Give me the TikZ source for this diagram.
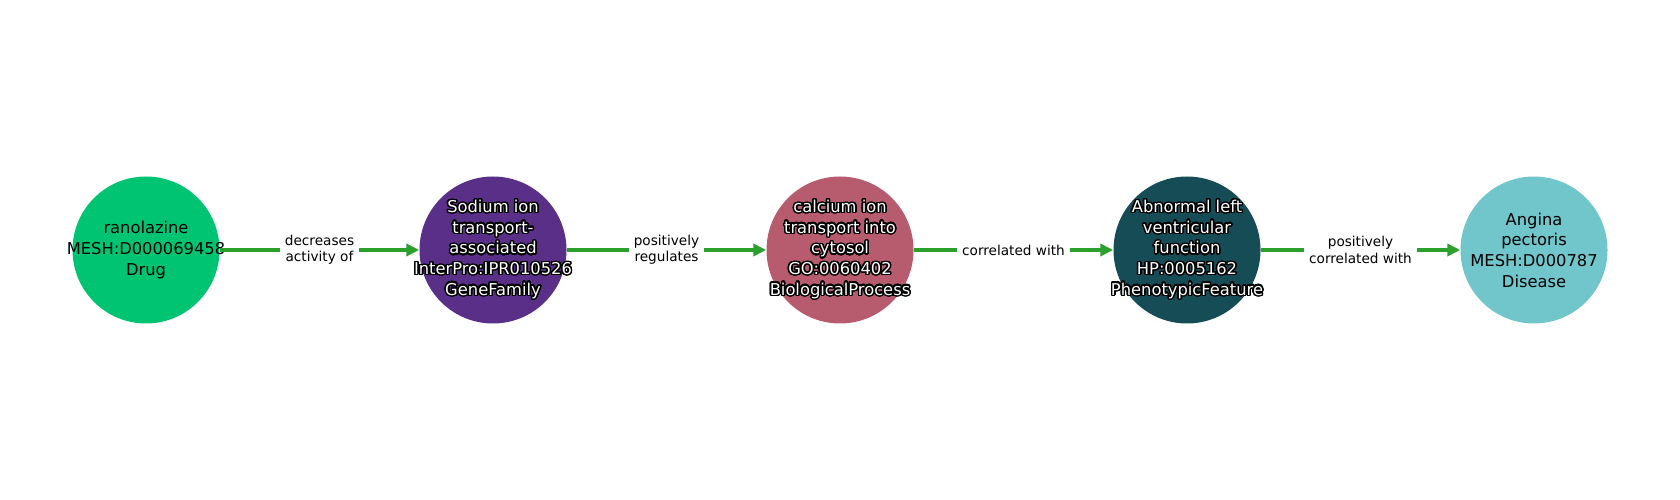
\documentclass[tikz,border=0pt]{standalone}
\usepackage{fontspec}
\setmainfont{DejaVu Sans}
\usepackage[copies]{contour}
\usetikzlibrary{arrows.meta}
\contourlength{1pt}
\contournumber{32}
\newcommand{\wl}[1]{\contour{black}{#1}}
\definecolor{drugcol}{HTML}{00C472}
\definecolor{genecol}{HTML}{5A2F87}
\definecolor{proccol}{HTML}{B75B6F}
\definecolor{phenocol}{HTML}{154C56}
\definecolor{discol}{HTML}{70C6CB}
\definecolor{relgreen}{HTML}{2CA02C}

\begin{document}
\begin{tikzpicture}[
    ent/.style={circle, minimum size=3.675cm, inner sep=0pt},
    enttext/.style={align=center, inner sep=0pt,
      font=\fontsize{11.6}{14.7}\selectfont},
    lbl/.style={fill=white, inner sep=3.5pt, align=center,
      font=\fontsize{9.7}{11.6}\selectfont},
    rel/.style={draw=relgreen, line width=2.6pt,
      -{Triangle[length=0.32cm,width=0.3cm]}}]
  \useasboundingbox (0,0) rectangle (42,12.5);

  \node[ent, fill=drugcol] (drug) at (3.65,6.25) {};
  \node[ent, fill=genecol] (gene) at (12.325,6.25) {};
  \node[ent, fill=proccol] (proc) at (21,6.25) {};
  \node[ent, fill=phenocol] (pheno) at (29.675,6.25) {};
  \node[ent, fill=discol] (dis) at (38.35,6.25) {};

  \node[enttext] (drugtxt) at (drug) {ranolazine\\MESH:D000069458\\Drug};
  \node[enttext, text=white] (genetxt) at (gene)
    {\wl{Sodium ion}\\\wl{transport-}\\\wl{associated}\\\wl{InterPro:IPR010526}\\\wl{GeneFamily}};
  \node[enttext, text=white] (proctxt) at (proc)
    {\wl{calcium ion}\\\wl{transport into}\\\wl{cytosol}\\\wl{GO:0060402}\\\wl{BiologicalProcess}};
  \node[enttext, text=white] (phenotxt) at (pheno)
    {\wl{Abnormal left}\\\wl{ventricular}\\\wl{function}\\\wl{HP:0005162}\\\wl{PhenotypicFeature}};
  \node[enttext] (distxt) at (dis) {Angina\\pectoris\\MESH:D000787\\Disease};

  \draw[rel] (drug) -- node[lbl] {decreases\\activity of} (gene);
  \draw[rel] (gene) -- node[lbl] {positively\\regulates} (proc);
  \draw[rel] (proc) -- node[lbl] {correlated with} (pheno);
  \draw[rel] (pheno) -- node[lbl] {positively\\correlated with} (dis);

\end{tikzpicture}
\end{document}
